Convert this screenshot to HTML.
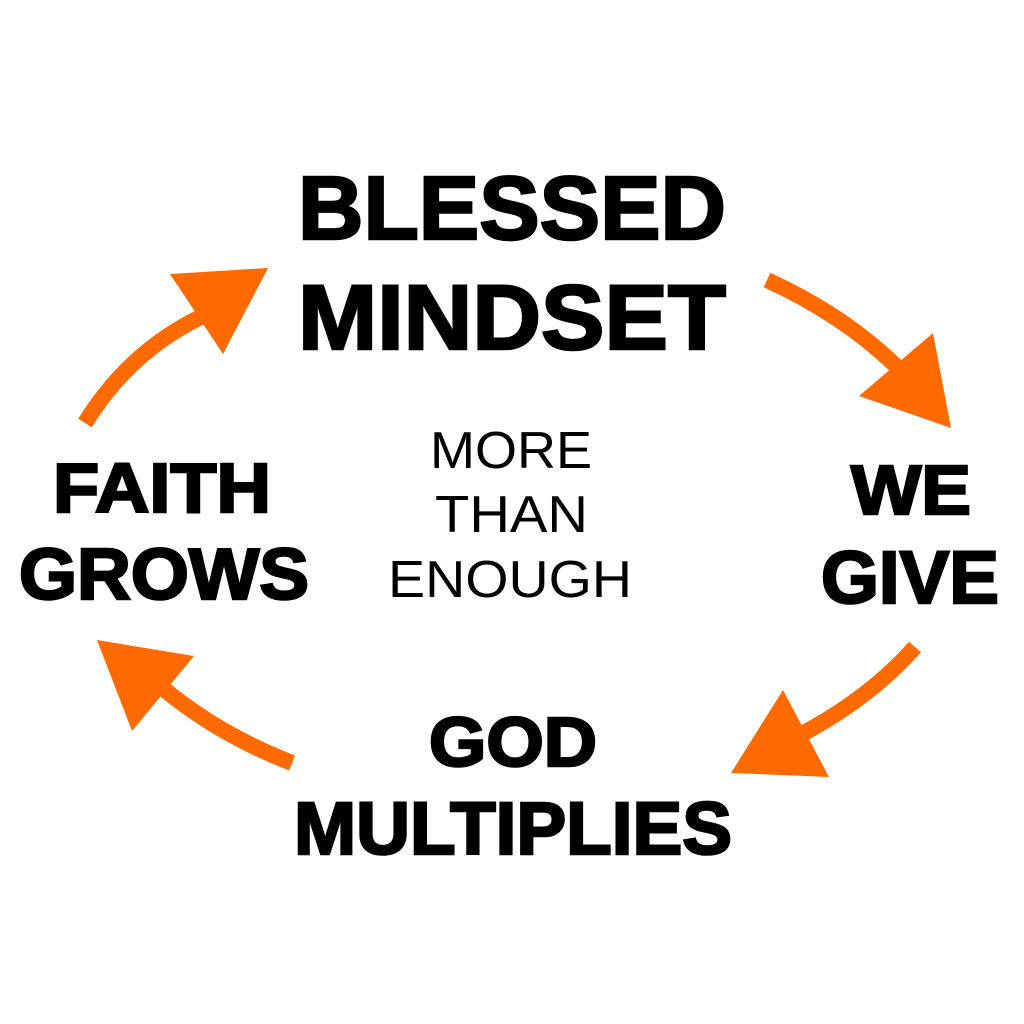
<!DOCTYPE html>
<html><head><meta charset="utf-8"><style>
html,body{margin:0;padding:0;background:#fff;}
svg{display:block;}
.b{font-family:"Liberation Sans",sans-serif;font-weight:bold;fill:#000;stroke:#000;stroke-width:2.5;stroke-linejoin:miter;}
.t{font-family:"Liberation Sans",sans-serif;font-weight:normal;fill:#000;}
</style></head><body>
<svg width="1024" height="1024" viewBox="0 0 1024 1024">
<rect width="1024" height="1024" fill="#fff"/>
<g fill="none" stroke="#FF6A00" stroke-width="16">
<path d="M85,423 Q130,350 205,315"/>
<path d="M767,280 Q850,318 905,375"/>
<path d="M915,647 Q870,698 800,735"/>
<path d="M292,763 Q220,735 165,690"/>
</g>
<g fill="#FF6A00">
<polygon points="170,274 268,268 223,354"/>
<polygon points="933,333 951,428 859,396"/>
<polygon points="783,690 731,773 829,777"/>
<polygon points="97,640 194,656 132,731"/>
</g>
<text class="b" x="298" y="239" font-size="90" textLength="428" lengthAdjust="spacingAndGlyphs">BLESSED</text>
<text class="b" x="298" y="349" font-size="92" textLength="428" lengthAdjust="spacingAndGlyphs">MINDSET</text>
<text class="b" x="53" y="512" font-size="70" textLength="218" lengthAdjust="spacingAndGlyphs">FAITH</text>
<text class="b" x="19" y="599" font-size="72" textLength="290" lengthAdjust="spacingAndGlyphs">GROWS</text>
<text class="b" x="851" y="514" font-size="70" textLength="120" lengthAdjust="spacingAndGlyphs">WE</text>
<text class="b" x="821" y="603" font-size="74" textLength="178" lengthAdjust="spacingAndGlyphs">GIVE</text>
<text class="b" x="429" y="766" font-size="70" textLength="168" lengthAdjust="spacingAndGlyphs">GOD</text>
<text class="b" x="294" y="854" font-size="74" textLength="438" lengthAdjust="spacingAndGlyphs">MULTIPLIES</text>
<text class="t" x="430" y="468" font-size="52" textLength="162" lengthAdjust="spacingAndGlyphs">MORE</text>
<text class="t" x="435" y="532" font-size="52" textLength="153" lengthAdjust="spacingAndGlyphs">THAN</text>
<text class="t" x="388" y="597" font-size="52" textLength="244" lengthAdjust="spacingAndGlyphs">ENOUGH</text>
</svg>
</body></html>
